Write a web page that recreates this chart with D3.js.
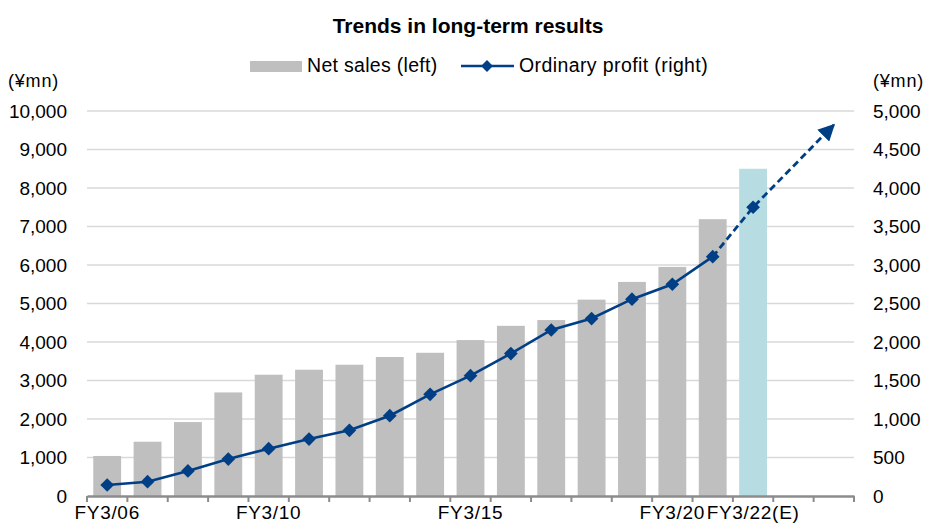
<!DOCTYPE html>
<html>
<head>
<meta charset="utf-8">
<script src="https://cdn.jsdelivr.net/npm/d3@7"></script>
<style>
  html, body { margin: 0; padding: 0; background: #fff; }
  svg { display: block; font-family: "Liberation Sans", Arial, "Noto Sans CJK JP", sans-serif; }
</style>
</head>
<body>
<svg id="chart" width="929" height="529"></svg>
<script>
// Fiscal years (two trailing slots leave room for the forecast arrow)
const categories = ["FY3/06","FY3/07","FY3/08","FY3/09","FY3/10","FY3/11","FY3/12","FY3/13","FY3/14",
  "FY3/15","FY3/16","FY3/17","FY3/18","FY3/19","FY3/20","FY3/21","FY3/22(E)","FY3/23","FY3/24"];
const shownLabels = ["FY3/06","FY3/10","FY3/15","FY3/20","FY3/22(E)"];

// Net sales (¥mn), left axis
const salesYears = ["FY3/06","FY3/07","FY3/08","FY3/09","FY3/10","FY3/11","FY3/12","FY3/13","FY3/14",
  "FY3/15","FY3/16","FY3/17","FY3/18","FY3/19","FY3/20","FY3/21","FY3/22(E)"];
const netSales = [1040,1410,1920,2690,3150,3280,3410,3610,3720,4050,4420,4570,5100,5560,5950,7190,8500];
const forecastYear = "FY3/22(E)";

// Ordinary profit (¥mn), right axis
const profitYears = ["FY3/06","FY3/07","FY3/08","FY3/09","FY3/10","FY3/11","FY3/12","FY3/13","FY3/14",
  "FY3/15","FY3/16","FY3/17","FY3/18","FY3/19","FY3/20","FY3/21"];
const ordinaryProfit = [143,186,325,480,615,740,853,1043,1320,1563,1850,2156,2305,2556,2750,3108];

// Forecast path: last actual -> estimate -> arrow tip
const forecastYears = ["FY3/21","FY3/22(E)","FY3/24"];
const forecastProfit = [3108,3750,4820];

const leftTicks = [0,1000,2000,3000,4000,5000,6000,7000,8000,9000,10000];
const rightTicks = [0,500,1000,1500,2000,2500,3000,3500,4000,4500,5000];

const svg = d3.select("#chart");
const plot = { left: 87, right: 854, top: 111, bottom: 496 };

const x = d3.scaleBand().domain(categories).range([plot.left, plot.right])
  .paddingInner(0.31).paddingOuter(0.155);
const yL = d3.scaleLinear().domain([0, 10000]).range([plot.bottom, plot.top]);
const yR = d3.scaleLinear().domain([0, 5000]).range([plot.bottom, plot.top]);
const cx = d => x(d) + x.bandwidth() / 2;
const fmt = d3.format(",");

// Gridlines
svg.append("g").selectAll("line").data(leftTicks.slice(1)).join("line")
  .attr("x1", plot.left).attr("x2", plot.right)
  .attr("y1", d => yL(d)).attr("y2", d => yL(d))
  .attr("stroke", "#d9d9d9").attr("stroke-width", 1.3);

// Bars
svg.append("g").selectAll("rect").data(salesYears.map((c, i) => ({ c, v: netSales[i] }))).join("rect")
  .attr("x", d => x(d.c)).attr("width", x.bandwidth())
  .attr("y", d => yL(d.v)).attr("height", d => yL(0) - yL(d.v))
  .attr("fill", d => d.c === forecastYear ? "#b7dde2" : "#bfbfbf");

// Category axis
const gx = svg.append("g").attr("transform", `translate(0,${plot.bottom})`)
  .call(d3.axisBottom(x).tickSize(0).tickFormat(d => shownLabels.includes(d) ? d : ""));
gx.select(".domain").attr("stroke", "#8c8c8c").attr("stroke-width", 2.5);
gx.selectAll("text").attr("font-size", 19).attr("fill", "#000").attr("dy", "1.05em")
  .attr("letter-spacing", 0.7);
const step = x.step();
const bounds = categories.map(c => cx(c) - step / 2).concat([cx(categories[categories.length - 1]) + step / 2]);
gx.selectAll("line.bound").data(bounds).join("line").attr("class", "bound")
  .attr("x1", d => d).attr("x2", d => d).attr("y1", 0).attr("y2", 6)
  .attr("stroke", "#8c8c8c").attr("stroke-width", 2);

// Value axes
const gl = svg.append("g").attr("transform", `translate(67,0)`)
  .call(d3.axisLeft(yL).tickValues(leftTicks).tickSize(0).tickPadding(0).tickFormat(fmt));
gl.select(".domain").remove();
gl.selectAll("text").attr("font-size", 19).attr("fill", "#000");

const gr = svg.append("g").attr("transform", `translate(873,0)`)
  .call(d3.axisRight(yR).tickValues(rightTicks).tickSize(0).tickPadding(0).tickFormat(fmt));
gr.select(".domain").remove();
gr.selectAll("text").attr("font-size", 19).attr("fill", "#000");

// Unit labels
svg.append("text").attr("x", 8).attr("y", 87).attr("font-size", 18).attr("letter-spacing", 0.8).text("(¥mn)");
svg.append("text").attr("x", 873).attr("y", 87).attr("font-size", 18).attr("letter-spacing", 0.8).text("(¥mn)");

// Title
svg.append("text").attr("x", 468).attr("y", 33).attr("text-anchor", "middle")
  .attr("font-size", 21).attr("font-weight", "bold").text("Trends in long-term results");

const blue = "#003f86";

// Forecast dashed line with arrowhead
svg.append("defs").append("marker").attr("id", "arrowHead")
  .attr("viewBox", "0 0 10 10").attr("refX", 9).attr("refY", 5)
  .attr("markerWidth", 6).attr("markerHeight", 6).attr("markerUnits", "strokeWidth")
  .attr("orient", "auto")
  .append("path").attr("d", "M0,0 L10,5 L0,10 Z").attr("fill", blue);

const fLine = d3.line().x(d => cx(d.c)).y(d => yR(d.v));
svg.append("path")
  .datum(forecastYears.map((c, i) => ({ c, v: forecastProfit[i] })))
  .attr("d", fLine).attr("fill", "none").attr("stroke", blue)
  .attr("stroke-width", 2.8).attr("stroke-dasharray", "7,4")
  .attr("marker-end", "url(#arrowHead)");

// Actual profit line
const pData = profitYears.map((c, i) => ({ c, v: ordinaryProfit[i] }));
svg.append("path").datum(pData).attr("d", fLine)
  .attr("fill", "none").attr("stroke", blue).attr("stroke-width", 2.6);

const diamond = d3.symbol().type(d3.symbolDiamond2).size(120);
const markerData = pData.concat([{ c: forecastYear, v: forecastProfit[1] }]);
svg.append("g").selectAll("path").data(markerData).join("path")
  .attr("d", diamond)
  .attr("transform", d => `translate(${cx(d.c)},${yR(d.v)})`)
  .attr("fill", blue);

// Legend
const lg = svg.append("g");
lg.append("rect").attr("x", 250).attr("y", 61).attr("width", 52).attr("height", 11).attr("fill", "#bfbfbf");
lg.append("text").attr("x", 307).attr("y", 72).attr("font-size", 19.5).attr("letter-spacing", 0.3).text("Net sales (left)");
lg.append("line").attr("x1", 461).attr("x2", 514).attr("y1", 66).attr("y2", 66)
  .attr("stroke", blue).attr("stroke-width", 2.6);
lg.append("path").attr("d", d3.symbol().type(d3.symbolDiamond2).size(90)).attr("transform", "translate(487,66)").attr("fill", blue);
lg.append("text").attr("x", 519).attr("y", 72).attr("font-size", 19.5).attr("letter-spacing", 0.4).text("Ordinary profit (right)");
</script>
</body>
</html>
